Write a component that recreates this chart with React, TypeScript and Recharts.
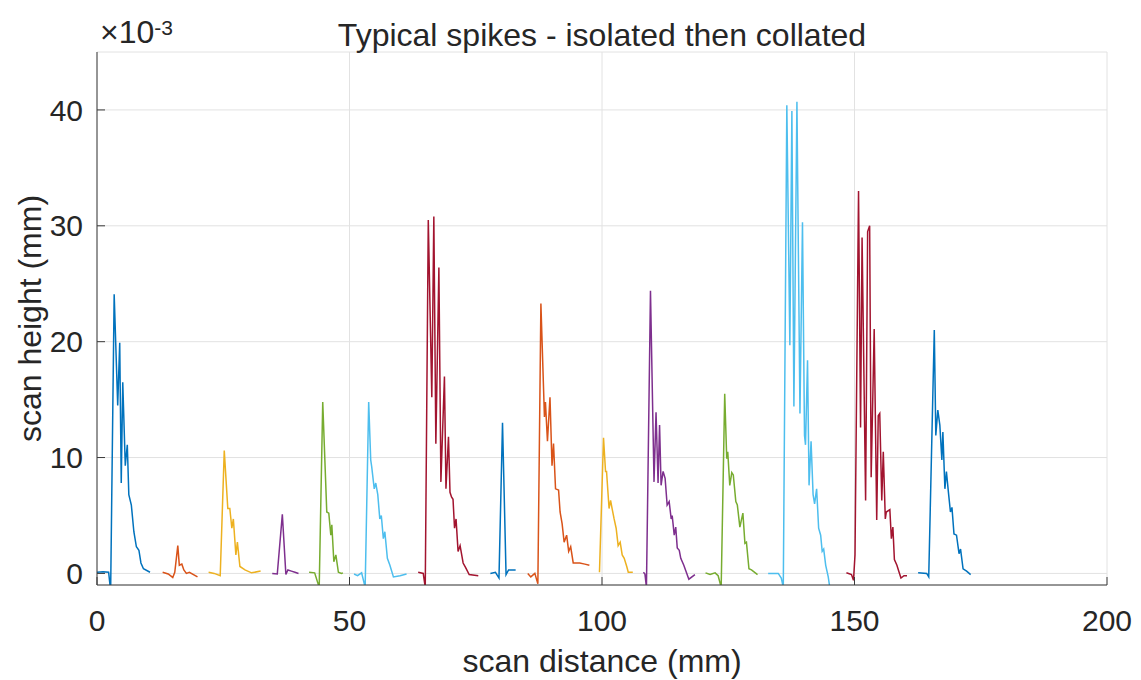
import React from "react";
import { LineChart, Line, XAxis, YAxis, CartesianGrid, Label } from "recharts";

// scan distance (mm) vs scan height (x1e-3 mm), one array per isolated spike
const spike01: [number, number][] = [
  [0, 0.1], [1.2, 0.15], [2.3, 0.1], [2.7, -1.5], [3.4, 24.1], [4.1, 14.5], [4.5, 19.9],
  [4.8, 7.8], [5.1, 16.5], [5.6, 9.3], [6.0, 11.1], [6.3, 6.8], [6.8, 5.9], [7.3, 3.6],
  [7.8, 2.3], [8.3, 2.0], [8.7, 0.9], [9.2, 0.4], [10.5, 0.1],
];
const spike02: [number, number][] = [
  [13.0, 0.1], [14.1, -0.05], [15.0, -0.35], [15.4, 0.1], [16.0, 2.4], [16.3, 0.7],
  [16.8, 0.8], [17.2, 0.3], [17.7, 0.0], [18.3, 0.1], [19.9, -0.3],
];
const spike03: [number, number][] = [
  [22.1, 0.1], [23.2, 0.0], [24.4, -0.2], [25.2, 10.6], [25.9, 5.6], [26.3, 5.6], [26.7, 3.9],
  [27.0, 4.7], [27.5, 1.6], [27.8, 2.7], [28.3, 0.6], [29.3, 0.3], [30.6, 0.05], [32.4, 0.2],
];
const spike04: [number, number][] = [
  [34.7, 0.0], [35.7, -0.05], [36.7, 5.1], [37.4, -0.1], [37.8, 0.3], [38.5, 0.2],
  [39.2, 0.1], [39.9, 0.0],
];
const spike05: [number, number][] = [
  [42.0, 0.1], [43.1, 0.05], [44.0, -1.2], [44.7, 14.8], [45.5, 5.3], [45.9, 5.2], [46.3, 3.3],
  [46.5, 4.2], [46.9, 1.0], [47.3, 1.6], [47.8, 0.1], [48.4, 0.0], [48.7, 0.05],
];
const spike06: [number, number][] = [
  [50.9, -0.05], [51.6, -0.2], [52.4, 0.05], [53.1, -1.2], [53.8, 14.8], [54.2, 9.8],
  [54.4, 9.2], [54.9, 7.3], [55.2, 7.8], [55.6, 6.8], [56.0, 4.7], [56.3, 5.0], [56.7, 3.0],
  [57.0, 3.6], [57.5, 1.3], [58.0, 0.7], [58.7, -0.3], [60.0, -0.2], [61.3, -0.05],
];
const spike07: [number, number][] = [
  [63.6, 0.1], [64.6, 0.0], [65.0, -1.2], [65.6, 30.5], [66.3, 15.2], [66.7, 30.8],
  [67.1, 11.2], [67.7, 26.4], [68.1, 7.9], [68.8, 17.0], [69.1, 7.3], [69.6, 11.8],
  [69.9, 7.0], [70.2, 6.6], [70.5, 6.4], [70.8, 3.9], [71.1, 4.7], [71.5, 1.9], [71.9, 2.4],
  [72.5, 0.9], [73.0, 0.5], [73.7, -0.1], [75.5, -0.2],
];
const spike08: [number, number][] = [
  [77.9, 0.0], [78.9, 0.1], [79.6, -0.4], [80.3, 13.0], [81.0, -0.1], [81.5, 0.3], [82.9, 0.3],
];
const spike09: [number, number][] = [
  [85.3, 0.0], [85.9, -0.3], [86.7, 0.0], [87.3, -0.9], [87.9, 23.3], [88.6, 13.5],
  [88.8, 14.8], [89.2, 11.4], [89.7, 15.2], [90.1, 9.3], [90.4, 11.2], [90.8, 7.3],
  [91.4, 7.2], [91.7, 5.3], [92.1, 4.3], [92.5, 2.7], [93.0, 3.3], [93.4, 1.9], [93.8, 2.3],
  [94.3, 0.9], [95.6, 0.9], [96.6, 0.8], [97.5, 0.7],
];
const spike10: [number, number][] = [
  [99.5, 0.1], [100.3, 11.7], [100.7, 8.8], [100.9, 8.8], [101.4, 5.6], [101.7, 6.3],
  [102.0, 5.6], [102.4, 4.7], [102.8, 3.9], [103.2, 2.4], [103.6, 2.7], [104.0, 1.6],
  [104.4, 1.3], [104.9, 0.6], [105.2, 0.1], [106.1, 0.1],
];
const spike11: [number, number][] = [
  [108.2, 0.1], [108.5, -0.05], [108.8, -1.2], [109.6, 24.4], [110.3, 7.9], [110.7, 13.9],
  [111.1, 7.8], [111.4, 12.8], [111.7, 7.6], [112.1, 8.8], [112.5, 8.2], [112.9, 5.9],
  [113.3, 6.2], [113.7, 4.7], [113.9, 5.0], [114.3, 3.3], [114.6, 4.0], [114.9, 2.2],
  [115.3, 2.0], [115.6, 1.3], [116.2, 0.7], [117.2, -0.5], [118.4, -0.1],
];
const spike12: [number, number][] = [
  [120.5, 0.05], [121.4, -0.1], [122.4, 0.05], [123.0, -0.2], [123.6, -1.2], [124.3, 15.5],
  [124.7, 9.9], [124.9, 10.5], [125.3, 7.6], [125.7, 8.7], [126.0, 8.5], [126.5, 6.2],
  [126.8, 5.9], [127.3, 4.0], [127.9, 5.2], [128.3, 2.6], [128.6, 2.7], [129.1, 0.4],
  [129.6, 0.3], [130.8, -0.1],
];
const spike13: [number, number][] = [
  [132.9, 0.0], [134.9, 0.0], [135.5, -0.4], [135.9, -1.2], [136.6, 40.4], [137.2, 19.7],
  [137.6, 39.9], [138.0, 14.4], [138.6, 40.7], [139.2, 13.8], [139.7, 30.3], [140.1, 11.9],
  [140.3, 11.1], [140.7, 18.4], [141.0, 7.6], [141.4, 11.4], [141.8, 6.8], [142.1, 6.0],
  [142.5, 7.3], [142.9, 3.9], [143.3, 3.3], [143.6, 1.9], [143.9, 2.1], [144.3, 0.7],
  [144.8, -0.3], [145.1, -1.2],
];
const spike14: [number, number][] = [
  [148.4, 0.05], [149.4, -0.1], [149.8, -0.6], [150.1, 1.6], [150.8, 33.0], [151.2, 12.6],
  [151.5, 29.0], [152.2, 6.3], [152.6, 29.5], [153.0, 30.0], [153.3, 8.3], [153.9, 21.1],
  [154.4, 4.6], [154.7, 13.6], [155.0, 13.8], [155.4, 6.3], [155.7, 10.5], [156.1, 4.7],
  [156.3, 5.3], [157.0, 5.5], [157.3, 3.0], [157.6, 4.0], [157.9, 1.2], [158.4, 0.7],
  [158.8, 0.15], [159.2, -0.4], [159.8, -0.2], [160.4, -0.2],
];
const spike15: [number, number][] = [
  [162.6, 0.05], [164.3, 0.0], [164.7, -0.3], [165.8, 21.0], [166.1, 11.9], [166.5, 14.1],
  [166.9, 12.8], [167.3, 9.8], [167.5, 12.2], [167.9, 7.3], [168.2, 8.8], [168.6, 7.0],
  [169.0, 5.3], [169.3, 5.7], [169.7, 3.4], [170.2, 3.3], [170.7, 1.7], [171.0, 2.1],
  [171.5, 0.4], [172.2, 0.2], [173.0, -0.1],
];

const spikes = [
  spike01, spike02, spike03, spike04, spike05, spike06, spike07, spike08,
  spike09, spike10, spike11, spike12, spike13, spike14, spike15,
];

// matlab default line colour order
const COLORS = [
  "#0072BD",
  "#D95319",
  "#EDB120",
  "#7E2F8E",
  "#77AC30",
  "#4DBEEE",
  "#A2142F",
];

const xTicks = [0, 50, 100, 150, 200];
const yTicks = [0, 10, 20, 30, 40];

const FONT = "'Liberation Sans', Arial, Helvetica, sans-serif";
const INK = "#262626";
const AXIS = "#3a3a3a";

export default function App() {
  const tickStyle = { fill: INK, fontSize: 30, fontFamily: FONT };

  return (
    <div
      style={{
        position: "absolute",
        left: 0,
        top: 0,
        width: 1141,
        height: 680,
        background: "#fff",
        fontFamily: FONT,
      }}
    >
      <LineChart
        width={1141}
        height={680}
        margin={{ top: 52, right: 34, bottom: 0, left: 0 }}
      >
        <CartesianGrid stroke="#e2e2e2" strokeWidth={1} />
        <XAxis
          dataKey="x"
          type="number"
          domain={[0, 200]}
          ticks={xTicks}
          interval={0}
          height={95}
          allowDataOverflow
          stroke={AXIS}
          tickSize={-8}
          tickMargin={33}
          tick={tickStyle}
        >
          <Label
            value="scan distance (mm)"
            position="insideBottom"
            offset={8}
            style={{ fill: INK, fontSize: 32, fontFamily: FONT }}
          />
        </XAxis>
        <XAxis
          xAxisId="top"
          orientation="top"
          dataKey="x"
          type="number"
          domain={[0, 200]}
          ticks={xTicks}
          interval={0}
          height={0}
          allowDataOverflow
          stroke={AXIS}
          tickSize={-8}
          tickFormatter={() => ""}
        />
        <YAxis
          type="number"
          domain={[-1, 45]}
          ticks={yTicks}
          interval={0}
          width={97}
          allowDataOverflow
          stroke={AXIS}
          tickSize={-8}
          tickMargin={22}
          tick={tickStyle}
        >
          <Label
            value="scan height (mm)"
            angle={-90}
            position="insideLeft"
            offset={29.5}
            style={{ fill: INK, fontSize: 32, fontFamily: FONT, textAnchor: "middle" }}
          />
        </YAxis>
        <YAxis
          yAxisId="right"
          orientation="right"
          type="number"
          domain={[-1, 45]}
          ticks={yTicks}
          interval={0}
          width={0}
          allowDataOverflow
          stroke={AXIS}
          tickSize={-8}
          tickFormatter={() => ""}
        />
        {spikes.map((pts, i) => (
          <Line
            key={i}
            data={pts.map(([x, y]) => ({ x, y }))}
            dataKey="y"
            type="linear"
            stroke={COLORS[i % COLORS.length]}
            strokeWidth={1.5}
            dot={false}
            activeDot={false}
            isAnimationActive={false}
          />
        ))}
      </LineChart>

      <div
        style={{
          position: "absolute",
          left: 97,
          top: 18.6,
          width: 1010,
          textAlign: "center",
          fontSize: 32,
          lineHeight: "32px",
          color: INK,
          whiteSpace: "nowrap",
        }}
      >
        Typical spikes - isolated then collated
      </div>
      <div
        style={{
          position: "absolute",
          left: 100,
          top: 16,
          fontSize: 32,
          lineHeight: "32px",
          color: INK,
          whiteSpace: "nowrap",
        }}
      >
        ×10
        <span style={{ fontSize: 21, position: "relative", top: -8 }}>-3</span>
      </div>
    </div>
  );
}
